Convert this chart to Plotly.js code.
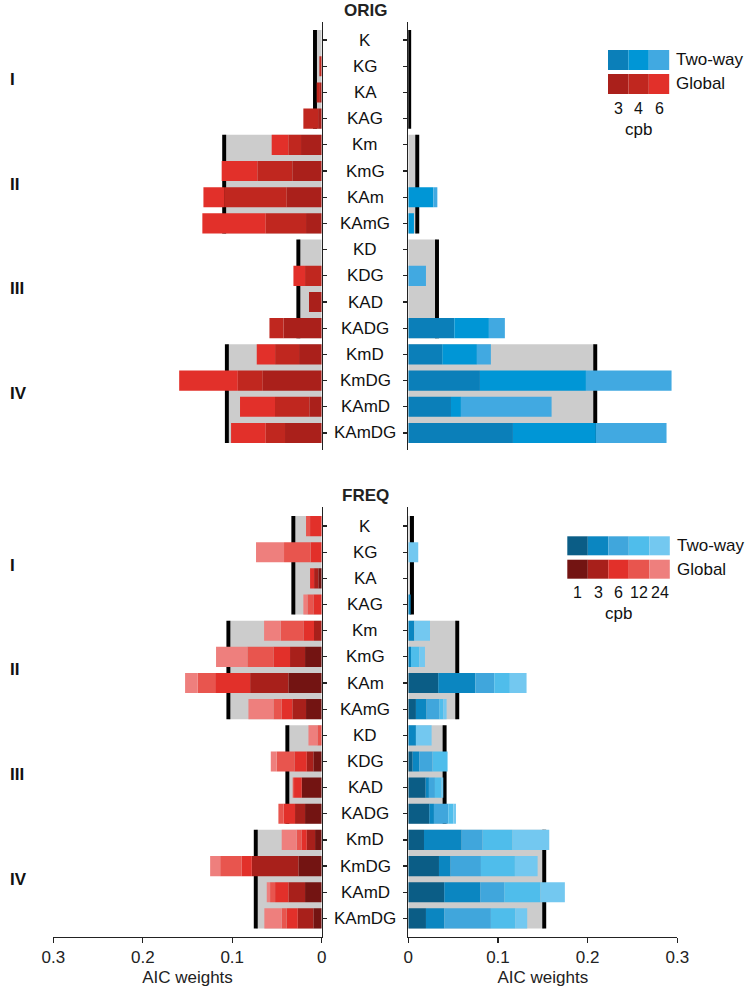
<!DOCTYPE html>
<html>
<head>
<meta charset="utf-8">
<script src="https://cdn.plot.ly/plotly-3.0.1.min.js"></script>
<style>
  html, body { margin: 0; padding: 0; background: #fff; }
  #chart { width: 747px; height: 990px; }
</style>
</head>
<body>
<div id="chart"></div>
<script>
// model names, top to bottom, and the four model groups
var models = ['K', 'KG', 'KA', 'KAG', 'Km', 'KmG', 'KAm', 'KAmG',
              'KD', 'KDG', 'KAD', 'KADG', 'KmD', 'KmDG', 'KAmD', 'KAmDG'];
var groups = ['I', 'II', 'III', 'IV'];

var origCpb = ['3', '4', '6'];
var freqCpb = ['1', '3', '6', '12', '24'];

// ORIG, Global: AIC weight contributed by each cpb
var origGlobal3 = [0, 0, 0.002, 0.004, 0.0231, 0.0328, 0.0391, 0.0175, 0, 0, 0.0142, 0.0428, 0.0253, 0.0659, 0.0138, 0.041];
var origGlobal4 = [0, 0.0026, 0.0036, 0.0165, 0.0142, 0.0391, 0.070, 0.0451, 0, 0.0186, 0, 0.0156, 0.0268, 0.0279, 0.0384, 0.0216];
var origGlobal6 = [0, 0, 0, 0, 0.0186, 0.0399, 0.0231, 0.0708, 0, 0.013, 0, 0, 0.0205, 0.0655, 0.0391, 0.0387];

// ORIG, Two-way
var origTwoWay3 = [0, 0, 0, 0, 0, 0, 0, 0, 0, 0, 0, 0.0513, 0.0379, 0.0799, 0.0476, 0.1167];
var origTwoWay4 = [0, 0, 0, 0, 0, 0, 0.0279, 0.0063, 0, 0, 0, 0.0386, 0.0386, 0.1182, 0.0111, 0.0925];
var origTwoWay6 = [0, 0, 0, 0, 0, 0, 0.0045, 0, 0, 0.0197, 0, 0.0178, 0.0156, 0.0955, 0.1011, 0.0788];

// FREQ, Global
var freqGlobal1  = [0, 0, 0.0037, 0, 0, 0.0186, 0.0372, 0.0175, 0, 0.0093, 0.0223, 0.0186, 0.0074, 0.026, 0.0186, 0.0093];
var freqGlobal3  = [0, 0, 0.0048, 0, 0.0086, 0.0168, 0.0428, 0.0153, 0, 0.0074, 0, 0.0112, 0.0093, 0.0521, 0.0186, 0.0175];
var freqGlobal6  = [0.013, 0.0123, 0.0045, 0.0093, 0.0119, 0.0186, 0.0391, 0.0119, 0, 0.0138, 0.0086, 0.013, 0.0056, 0.0112, 0.0149, 0.0123];
var freqGlobal12 = [0.0045, 0.0298, 0, 0.0067, 0.0253, 0.0291, 0.0194, 0.0093, 0.0048, 0.0197, 0.0015, 0.0056, 0.0056, 0.0242, 0.0056, 0.0056];
var freqGlobal24 = [0, 0.0313, 0, 0.0045, 0.0186, 0.035, 0.0142, 0.0279, 0.01, 0.0067, 0, 0, 0.0168, 0.0112, 0.0037, 0.0194];

// FREQ, Two-way
var freqTwoWay1  = [0, 0, 0, 0, 0, 0, 0.0334, 0.0085, 0, 0.0048, 0.0193, 0.0234, 0.0175, 0.0342, 0.0401, 0.0197];
var freqTwoWay3  = [0, 0, 0, 0.0026, 0.0067, 0.003, 0.0416, 0.0119, 0.0085, 0.0074, 0.0037, 0.0052, 0.042, 0.013, 0.0401, 0.0204];
var freqTwoWay6  = [0, 0, 0, 0, 0, 0, 0.0208, 0.0141, 0, 0.0149, 0.0067, 0.016, 0.0234, 0.0338, 0.0268, 0.052];
var freqTwoWay12 = [0, 0, 0, 0, 0, 0.0093, 0.0175, 0.0045, 0, 0.0167, 0.0074, 0.0056, 0.0334, 0.0379, 0.0405, 0.0271];
var freqTwoWay24 = [0, 0.0111, 0, 0, 0.0175, 0.0063, 0.0186, 0.0037, 0.0175, 0, 0.0019, 0.003, 0.0409, 0.0253, 0.0271, 0.0134];

// group-level reference weight (grey block + black marker)
var origGlobalGroup = [0.0075, 0.109, 0.0261, 0.106];
var origTwoWayGroup = [0.001, 0.010, 0.032, 0.2085];
var freqGlobalGroup = [0.0317, 0.1043, 0.0384, 0.0737];
var freqTwoWayGroup = [0.0041, 0.0546, 0.0405, 0.1516];

var redsOrig  = ['#aa201b', '#c0271f', '#e2302a'];
var bluesOrig = ['#0b7fb9', '#0096d6', '#41a9e1'];
var redsFreq  = ['#731412', '#a8201b', '#e2302a', '#e8554e', '#ee7f7d'];
var bluesFreq = ['#0b5d86', '#0b86c1', '#40a6dc', '#4fbdeb', '#73c8f0'];

var W = 747, H = 990;
function px(x) { return x / W; }
function py(y) { return 1 - y / H; }

var FONT = 'Liberation Sans, Arial, Helvetica, sans-serif';
var pos = models.map(function (m, i) { return i; });
var groupPos = groups.map(function (g, i) { return i * 4 + 1.5; });
var barW = 0.77;
var markHalf = 0.0022;

function panel(xa, ya, segs, colors, groupVals) {
  var out = [];
  out.push({
    type: 'bar', orientation: 'h', xaxis: xa, yaxis: ya,
    y: groupPos, x: groupVals, width: 3 + barW,
    marker: {color: '#cccccc', line: {width: 0}},
    hoverinfo: 'skip', showlegend: false
  });
  out.push({
    type: 'bar', orientation: 'h', xaxis: xa, yaxis: ya,
    y: groupPos, x: groupVals.map(function () { return 2 * markHalf; }),
    base: groupVals.map(function (v) { return v - markHalf; }),
    width: 3 + barW,
    marker: {color: '#000000', line: {width: 0}},
    hoverinfo: 'skip', showlegend: false
  });
  var cum = models.map(function () { return 0; });
  segs.forEach(function (s, k) {
    out.push({
      type: 'bar', orientation: 'h', xaxis: xa, yaxis: ya,
      y: pos, x: s, base: cum.slice(), width: barW,
      marker: {color: colors[k], line: {width: 0}},
      hoverinfo: 'skip', showlegend: false
    });
    cum = cum.map(function (c, i) { return c + s[i]; });
  });
  return out;
}

var data = []
  .concat(panel('x', 'y', [origGlobal3, origGlobal4, origGlobal6], redsOrig, origGlobalGroup))
  .concat(panel('x2', 'y2', [origTwoWay3, origTwoWay4, origTwoWay6], bluesOrig, origTwoWayGroup))
  .concat(panel('x3', 'y3', [freqGlobal1, freqGlobal3, freqGlobal6, freqGlobal12, freqGlobal24], redsFreq, freqGlobalGroup))
  .concat(panel('x4', 'y4', [freqTwoWay1, freqTwoWay3, freqTwoWay6, freqTwoWay12, freqTwoWay24], bluesFreq, freqTwoWayGroup));

var leftDom = [px(53.3), px(321.7)];
var rightDom = [px(408.3), px(677.3)];
var origDom = [py(450), py(22)];
var freqDom = [py(936.7), py(507)];

function xAxis(dom, rng, anchor, shown) {
  var a = {
    domain: dom, range: rng, anchor: anchor,
    showgrid: false, zeroline: false, fixedrange: true
  };
  if (shown) {
    a.showline = true; a.linecolor = '#222'; a.linewidth = 1.2;
    a.ticks = 'outside'; a.ticklen = 5; a.tickcolor = '#222'; a.tickwidth = 1.2;
    a.tickvals = [0, 0.1, 0.2, 0.3];
    a.ticktext = ['0', '0.1', '0.2', '0.3'];
    a.tickfont = {family: FONT, size: 17, color: '#222'};
    a.title = {text: 'AIC weights', font: {family: FONT, size: 17, color: '#222'}, standoff: 4};
  } else {
    a.showline = false; a.ticks = ''; a.showticklabels = false;
  }
  return a;
}
function yAxis(dom, rng, anchor, side) {
  return {
    domain: dom, range: rng, anchor: anchor, side: side,
    showline: true, linecolor: '#222', linewidth: 1.2,
    ticks: 'outside', ticklen: 4, tickcolor: '#222', tickwidth: 1.2,
    tickvals: pos, showticklabels: false,
    showgrid: false, zeroline: false, fixedrange: true
  };
}

var annotations = [];
function addLabels(yref) {
  models.forEach(function (m, i) {
    annotations.push({xref: 'paper', yref: yref, x: px(365), y: i, text: m,
      showarrow: false, xanchor: 'center', yanchor: 'middle',
      font: {family: FONT, size: 17, color: '#111'}});
  });
  groups.forEach(function (g, i) {
    annotations.push({xref: 'paper', yref: yref, x: px(8), y: groupPos[i], text: '<b>' + g + '</b>',
      showarrow: false, xanchor: 'left', yanchor: 'middle',
      font: {family: FONT, size: 17, color: '#111'}});
  });
}
addLabels('y');
addLabels('y3');

annotations.push({xref: 'paper', yref: 'paper', x: px(365), y: py(11), text: '<b>ORIG</b>',
  showarrow: false, xanchor: 'center', yanchor: 'middle', font: {family: FONT, size: 17, color: '#222'}});
annotations.push({xref: 'paper', yref: 'paper', x: px(365), y: py(495), text: '<b>FREQ</b>',
  showarrow: false, xanchor: 'center', yanchor: 'middle', font: {family: FONT, size: 17, color: '#222'}});

// colour keys
var shapes = [];
function colourKey(left, top, cellW, cellH, gap, blues, reds, labels) {
  [blues, reds].forEach(function (cols, r) {
    var y0 = top + r * (cellH + gap);
    cols.forEach(function (c, k) {
      shapes.push({type: 'rect', xref: 'paper', yref: 'paper',
        x0: px(left + k * cellW), x1: px(left + (k + 1) * cellW),
        y0: py(y0 + cellH), y1: py(y0),
        fillcolor: c, line: {width: 0}});
    });
    annotations.push({xref: 'paper', yref: 'paper',
      x: px(left + cols.length * cellW + 5), y: py(y0 + cellH / 2),
      text: r === 0 ? 'Two-way' : 'Global', showarrow: false,
      xanchor: 'left', yanchor: 'middle', font: {family: FONT, size: 17, color: '#111'}});
  });
  var numY = top + 2 * cellH + gap + 14;
  labels.forEach(function (l, k) {
    annotations.push({xref: 'paper', yref: 'paper',
      x: px(left + (k + 0.5) * cellW), y: py(numY), text: l, showarrow: false,
      xanchor: 'center', yanchor: 'middle', font: {family: FONT, size: 16, color: '#111'}});
  });
  annotations.push({xref: 'paper', yref: 'paper',
    x: px(left + labels.length * cellW / 2), y: py(numY + 21), text: 'cpb', showarrow: false,
    xanchor: 'center', yanchor: 'middle', font: {family: FONT, size: 17, color: '#111'}});
}
colourKey(608, 50, 20.4, 20, 4, bluesOrig, redsOrig, origCpb);
colourKey(567.3, 536.3, 20.5, 19, 4.4, bluesFreq, redsFreq, freqCpb);

var layout = {
  width: W, height: H,
  margin: {l: 0, r: 0, t: 0, b: 0},
  paper_bgcolor: '#ffffff', plot_bgcolor: 'rgba(0,0,0,0)',
  barmode: 'overlay',
  showlegend: false,
  font: {family: FONT, size: 17, color: '#222'},
  xaxis: xAxis(leftDom, [0.3, 0], 'y', false),
  yaxis: yAxis(origDom, [15.65, -0.69], 'x', 'right'),
  xaxis2: xAxis(rightDom, [0, 0.3], 'y2', false),
  yaxis2: yAxis(origDom, [15.65, -0.69], 'x2', 'left'),
  xaxis3: xAxis(leftDom, [0.3, 0], 'y3', true),
  yaxis3: yAxis(freqDom, [15.7, -0.73], 'x3', 'right'),
  xaxis4: xAxis(rightDom, [0, 0.3], 'y4', true),
  yaxis4: yAxis(freqDom, [15.7, -0.73], 'x4', 'left'),
  annotations: annotations,
  shapes: shapes
};

Plotly.newPlot('chart', data, layout, {displayModeBar: false, staticPlot: true});
</script>
</body>
</html>
